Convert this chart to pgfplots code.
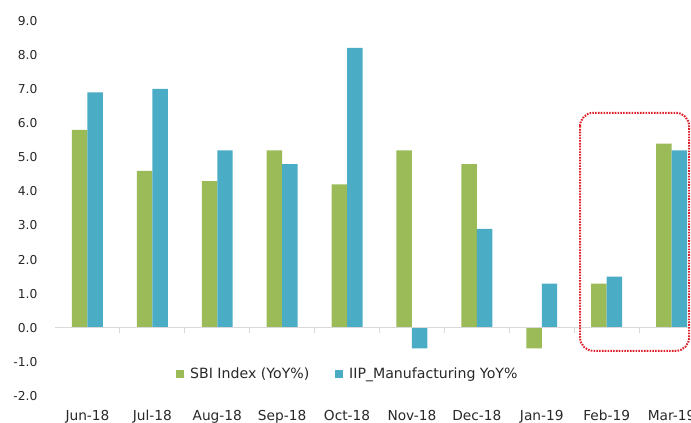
\documentclass[border=0pt]{standalone}
\usepackage{fontspec}
\setmainfont{DejaVu Sans}
\usepackage{pgfplots}
\pgfplotsset{compat=1.18}
\definecolor{sbigreen}{RGB}{155,187,89}
\definecolor{iipblue}{RGB}{75,172,198}
\definecolor{boxred}{RGB}{222,30,40}
\definecolor{axgray}{RGB}{217,217,217}
\definecolor{txt}{RGB}{40,40,40}
\pgfplotsset{sqleg/.style={legend image code/.code={\fill[##1] (0pt,-2.8pt) rectangle (5.6pt,2.8pt);}}}
\begin{document}
\begin{tikzpicture}
\begin{axis}[
  at={(41.25pt,-297.2pt)}, anchor=south west,
  scale only axis, width=486.75pt, height=281.8pt,
  xmin=-0.5, xmax=9.5, ymin=-2, ymax=9,
  axis line style={draw=none},
  major tick length=0pt,
  tick style={draw=none},
  xtick={0,...,9},
  xticklabels={Jun-18,Jul-18,Aug-18,Sep-18,Oct-18,Nov-18,Dec-18,Jan-19,Feb-19,Mar-19},
  xticklabel style={anchor=base, inner sep=0pt, yshift=-18.3pt, font=\fontsize{10.3}{12}\selectfont, text=txt},
  ytick={-2,...,9},
  yticklabel style={anchor=east, inner sep=0pt, xshift=-13pt, font=\fontsize{9.2}{11}\selectfont, text=txt,
    /pgf/number format/.cd, fixed, fixed zerofill, precision=1},
  /pgf/number format/assume math mode=true,
  ybar=0pt, bar width=11.6pt,
  legend columns=2,
  legend style={at={(0.1864,0.0594)}, anchor=west, draw=none, fill=none, inner sep=0pt,
    font=\fontsize{10.6}{12}\selectfont, text=txt,
    nodes={inner sep=0pt},
    /tikz/every odd column/.append style={column sep=4.8pt},
    /tikz/every even column/.append style={column sep=19.5pt}},
]
\addplot[fill=sbigreen, draw=none, sqleg] coordinates {
(0,5.8) (1,4.6) (2,4.3) (3,5.2) (4,4.2) (5,5.2) (6,4.8) (7,-0.6) (8,1.3) (9,5.4)};
\addlegendentry{SBI Index (YoY\%)}
\addplot[fill=iipblue, draw=none, sqleg] coordinates {
(0,6.9) (1,7.0) (2,5.2) (3,4.8) (4,8.2) (5,-0.6) (6,2.9) (7,1.3) (8,1.5) (9,5.2)};
\addlegendentry{IIP\_Manufacturing YoY\%}
\draw[axgray, line width=0.75pt] (axis cs:-0.5,0) -- (axis cs:9.5,0);
\pgfplotsinvokeforeach{0.5,1.5,2.5,3.5,4.5,5.5,6.5,7.5,8.5}{
  \draw[axgray, line width=0.75pt] (axis cs:#1,0) -- ++(0pt,-3.75pt);
}
\draw[boxred, line width=1.5pt, dash pattern=on 1.2pt off 0.9pt, rounded corners=10pt]
  (axis cs:7.59,6.3) rectangle (axis cs:9.27,-0.67);
\end{axis}
\pgfresetboundingbox
\path[use as bounding box] (0pt,0pt) rectangle (518.25pt,-316.5pt);
\end{tikzpicture}
\end{document}
